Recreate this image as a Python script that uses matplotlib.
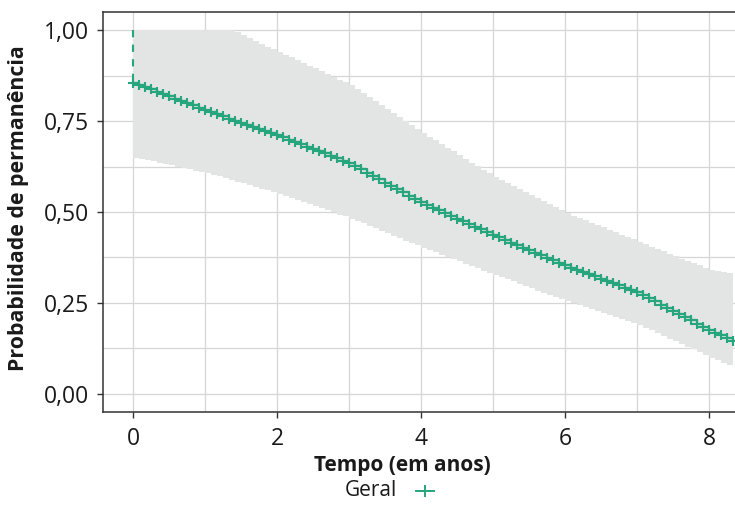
import matplotlib
matplotlib.use("Agg")
import matplotlib.pyplot as plt
from matplotlib.lines import Line2D
from matplotlib.ticker import MultipleLocator, FixedLocator

plt.rcParams['font.family'] = ['Open Sans', 'DejaVu Sans']

# time in years (monthly steps, 0..100 months)
months = list(range(0, 101))

surv = [0.855, 0.849, 0.843, 0.837, 0.830, 0.824, 0.818, 0.812, 0.805, 0.799,
        0.793, 0.786, 0.780, 0.774, 0.769, 0.763, 0.757, 0.751, 0.746, 0.740,
        0.734, 0.728, 0.723, 0.717, 0.711, 0.705, 0.699, 0.693, 0.687, 0.680,
        0.674, 0.667, 0.661, 0.654, 0.648, 0.641, 0.635, 0.626, 0.617, 0.608,
        0.599, 0.590, 0.581, 0.572, 0.563, 0.554, 0.545, 0.536, 0.528, 0.520,
        0.512, 0.505, 0.497, 0.490, 0.482, 0.475, 0.467, 0.460, 0.452, 0.445,
        0.437, 0.430, 0.423, 0.416, 0.409, 0.402, 0.395, 0.388, 0.381, 0.374,
        0.367, 0.360, 0.353, 0.347, 0.341, 0.335, 0.329, 0.323, 0.317, 0.310,
        0.304, 0.298, 0.292, 0.286, 0.280, 0.271, 0.263, 0.254, 0.245, 0.237,
        0.228, 0.219, 0.211, 0.202, 0.193, 0.185, 0.176, 0.168, 0.161, 0.153,
        0.146]

upper = [1.000, 1.000, 1.000, 1.000, 1.000, 1.000, 1.000, 1.000, 1.000, 1.000,
         1.000, 1.000, 1.000, 1.000, 1.000, 1.000, 1.000, 0.995, 0.987, 0.979,
         0.970, 0.962, 0.955, 0.947, 0.940, 0.932, 0.925, 0.917, 0.910, 0.902,
         0.895, 0.887, 0.879, 0.872, 0.864, 0.857, 0.849, 0.838, 0.827, 0.816,
         0.805, 0.794, 0.783, 0.772, 0.761, 0.750, 0.739, 0.728, 0.717, 0.707,
         0.697, 0.687, 0.677, 0.667, 0.657, 0.646, 0.636, 0.626, 0.616, 0.606,
         0.596, 0.588, 0.580, 0.571, 0.563, 0.555, 0.547, 0.538, 0.530, 0.522,
         0.514, 0.505, 0.497, 0.490, 0.484, 0.477, 0.471, 0.464, 0.458, 0.451,
         0.444, 0.438, 0.431, 0.425, 0.418, 0.411, 0.405, 0.398, 0.392, 0.385,
         0.379, 0.372, 0.366, 0.359, 0.353, 0.346, 0.340, 0.337, 0.334, 0.331,
         0.328]

lower = [0.649, 0.646, 0.642, 0.639, 0.635, 0.632, 0.628, 0.625, 0.621, 0.618,
         0.614, 0.611, 0.607, 0.602, 0.598, 0.593, 0.588, 0.583, 0.579, 0.574,
         0.569, 0.564, 0.560, 0.555, 0.550, 0.544, 0.538, 0.533, 0.527, 0.522,
         0.516, 0.510, 0.505, 0.499, 0.493, 0.488, 0.482, 0.475, 0.469, 0.462,
         0.455, 0.448, 0.442, 0.435, 0.428, 0.421, 0.415, 0.408, 0.401, 0.395,
         0.389, 0.383, 0.376, 0.370, 0.364, 0.358, 0.352, 0.345, 0.339, 0.333,
         0.327, 0.321, 0.315, 0.309, 0.303, 0.297, 0.291, 0.284, 0.278, 0.272,
         0.266, 0.260, 0.254, 0.249, 0.243, 0.238, 0.233, 0.227, 0.222, 0.217,
         0.211, 0.206, 0.201, 0.195, 0.190, 0.182, 0.175, 0.167, 0.160, 0.152,
         0.145, 0.137, 0.129, 0.122, 0.114, 0.107, 0.099, 0.092, 0.085, 0.079,
         0.072]

start_value = 1.0
x_ticks = [0, 2, 4, 6, 8]
y_ticks = [0.0, 0.25, 0.5, 0.75, 1.0]
y_tick_labels = ["0,00", "0,25", "0,50", "0,75", "1,00"]
legend_label = "Geral"
x_label = "Tempo (em anos)"
y_label = "Probabilidade de permanência"

times = [m / 12 for m in months]

GREEN = "#27A57C"
BAND = "#E3E4E4"
GRID = "#D6D6D6"
TEXT = "#1A1A1A"

W, H = 735, 521
fig = plt.figure(figsize=(W / 100, H / 100), dpi=100)
# axes in pixel coordinates: left 103, top 12, bottom 412; right beyond canvas
xmin, xmax = -0.4167, 8.75
px_per_unit = 72
ax_w = (xmax - xmin) * px_per_unit
ax = fig.add_axes([103 / W, (H - 412) / H, ax_w / W, 400 / H])

ax.fill_between(times, lower, upper, step='post', color=BAND, linewidth=0, zorder=1)
ax.plot([0, 0], [start_value, surv[0]], color=GREEN, lw=1.5, ls=(0, (3.5, 3.5)), zorder=3)
ax.step(times, surv, where='post', color=GREEN, lw=1.6, zorder=3)
ax.plot(times, surv, ls='none', marker='+', color=GREEN, ms=7, mew=1.5, zorder=4)

ax.set_xlim(xmin, xmax)
ax.set_ylim(-0.05, 1.05)
ax.xaxis.set_major_locator(FixedLocator(x_ticks))
ax.xaxis.set_minor_locator(MultipleLocator(1))
ax.yaxis.set_major_locator(FixedLocator(y_ticks))
ax.yaxis.set_minor_locator(MultipleLocator(0.125))
ax.set_yticklabels(y_tick_labels)
ax.set_xticklabels([str(v) for v in x_ticks])
ax.grid(True, which='major', color=GRID, lw=0.9, zorder=0)
ax.grid(True, which='minor', color=GRID, lw=0.9, zorder=0)
ax.set_axisbelow(True)
ax.tick_params(which='minor', length=0)
ax.tick_params(which='major', length=4, width=1, color='#333333', labelsize=16.5,
               labelcolor=TEXT)
ax.tick_params(axis='x', pad=7)
ax.tick_params(axis='y', pad=6)
for s in ax.spines.values():
    s.set_color('#333333')
    s.set_linewidth(1.1)
ax.spines['right'].set_visible(False)

fig.text(402 / W, 1 - 466 / H, x_label, ha='center', va='center', fontsize=15,
         fontweight='bold', color=TEXT)
fig.text(19 / W, 1 - 208 / H, y_label, ha='center', va='center', rotation=90,
         fontsize=15.4, fontweight='bold', color=TEXT)

fig.text(397 / W, 1 - 490 / H, legend_label, ha='right', va='center', fontsize=15, color=TEXT)
fig.add_artist(Line2D([416 / W, 434 / W], [1 - 491 / H, 1 - 491 / H], color=GREEN, lw=1.4,
                      transform=fig.transFigure))
fig.add_artist(Line2D([425 / W], [1 - 491 / H], color=GREEN, ls='none', marker='+', ms=9, mew=1.4,
                      transform=fig.transFigure))

fig.savefig("out.png", dpi=100)
